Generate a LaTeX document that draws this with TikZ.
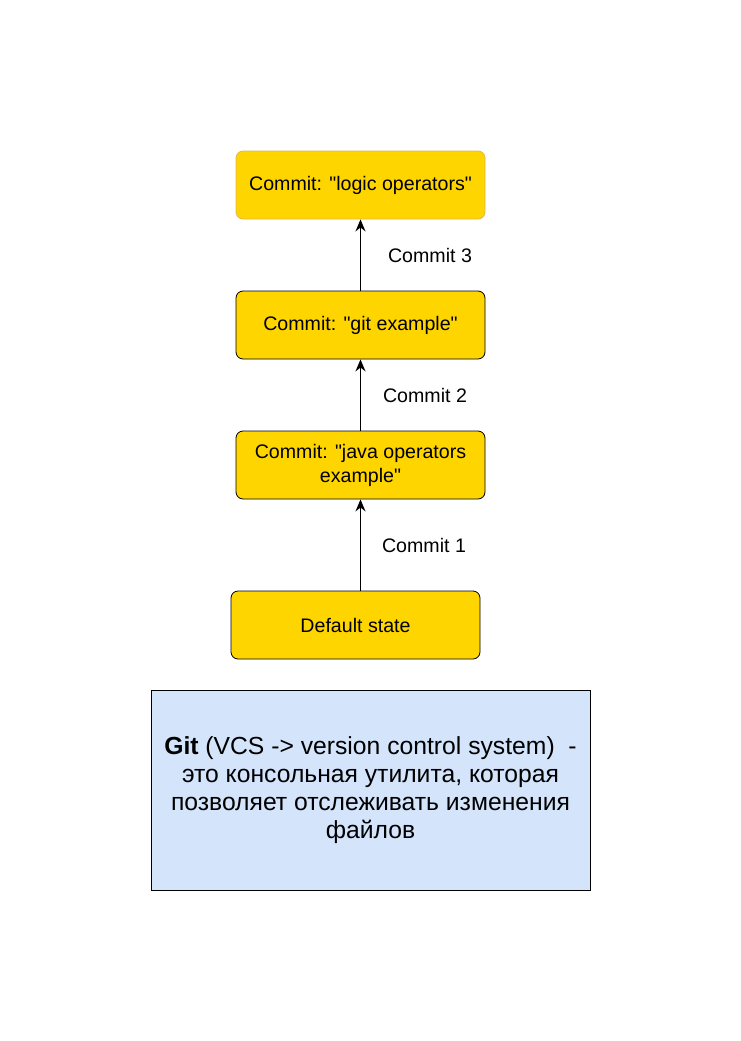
\documentclass[tikz,border=0pt]{standalone}
\usepackage{fontspec}
\setmainfont{Liberation Sans}[Ligatures=TeXOff]
\usetikzlibrary{arrows.meta}
\definecolor{gold}{HTML}{FFD500}
\definecolor{goldline}{HTML}{E0B84A}
\definecolor{lightblue}{HTML}{D4E4FB}
\newcommand{\dq}{{\XeTeXglyph\XeTeXcharglyph"22\relax}}
\tikzset{
  commitbox/.style={draw=black, fill=gold, rounded corners=7pt, minimum width=249pt, minimum height=68pt, align=center, font=\fontsize{19.6}{24}\selectfont, inner sep=2pt, line width=0.8pt},
  lbl/.style={font=\fontsize{19.6}{22}\selectfont, anchor=center},
  arr/.style={-{Stealth[length=12pt,width=10pt]}, line width=1.6pt},
  infobox/.style={draw=black, fill=lightblue, minimum width=439pt, minimum height=200pt, align=center, font=\fontsize{24.7}{28}\selectfont, line width=0.8pt}
}
\begin{document}
\begin{tikzpicture}[x=1pt,y=-1pt]
\useasboundingbox (0,0) rectangle (741,1041);
\node[commitbox, draw=goldline] (b4) at (360.5,185) {Commit: \dq logic operators\dq};
\node[commitbox] (b3) at (360.5,325) {Commit: \dq git example\dq};
\node[commitbox] (b2) at (360.5,465) {Commit: \dq java operators\\example\dq};
\node[commitbox] (b1) at (355.5,625) {Default state};
\node[infobox] (info) at (370.5,790) {\textbf{Git} (VCS -> version control system)~~-\\это консольная утилита, которая\\позволяет отслеживать изменения\\файлов};
\coordinate (s1) at (b2.south |- b1.north);
\draw[arr] (s1) -- (b2.south);
\draw[arr] (b2.north) -- (b3.south);
\draw[arr] (b3.north) -- (b4.south);
\node[lbl] (l1) at (424,545) {Commit 1};
\node[lbl] (l2) at (425,395) {Commit 2};
\node[lbl] (l3) at (430,255) {Commit 3};
\end{tikzpicture}
\end{document}
